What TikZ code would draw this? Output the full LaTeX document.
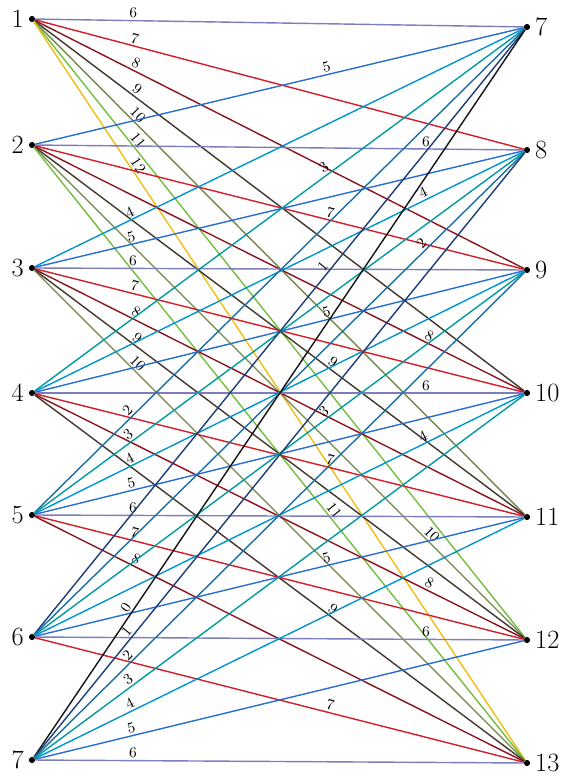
\documentclass[tikz,border=0pt]{standalone}
\usepackage{xcolor}
\usepackage{tikz}

\definecolor{d0}{RGB}{20,20,20}
\definecolor{d1}{RGB}{30,60,120}
\definecolor{d2}{RGB}{25,110,165}
\definecolor{d3}{RGB}{0,155,160}
\definecolor{d4}{RGB}{0,150,205}
\definecolor{d5}{RGB}{40,110,210}
\definecolor{d6}{RGB}{125,125,190}
\definecolor{d7}{RGB}{210,30,40}
\definecolor{d8}{RGB}{140,20,30}
\definecolor{d9}{RGB}{65,55,45}
\definecolor{d10}{RGB}{115,135,75}
\definecolor{d11}{RGB}{115,190,60}
\definecolor{d12}{RGB}{240,190,20}

\begin{document}
\begin{tikzpicture}[x=0.02cm, y=-0.02cm]
    \tikzstyle{vertex} = [circle, fill=black, inner sep=0pt, minimum size=3.5pt]
    \tikzstyle{vlabel} = [font=\fontsize{15}{18}\selectfont, inner sep=2.5pt]
    \tikzstyle{elabel} = [font=\fontsize{8.5}{10}\selectfont, sloped, above, inner sep=1pt, text=black]
    \tikzstyle{edge} = [line width=0.8pt]

    \useasboundingbox (0,0) rectangle (563,780);

    % left column
    \node [vertex, label={[vlabel]left:1}] (l1) at (32,19) {};
    \node [vertex, label={[vlabel]left:2}] (l2) at (32,145) {};
    \node [vertex, label={[vlabel]left:3}] (l3) at (32,268) {};
    \node [vertex, label={[vlabel]left:4}] (l4) at (32,393) {};
    \node [vertex, label={[vlabel]left:5}] (l5) at (32,515) {};
    \node [vertex, label={[vlabel]left:6}] (l6) at (32,637) {};
    \node [vertex, label={[vlabel]left:7}] (l7) at (32,760) {};

    % right column
    \node [vertex, label={[vlabel]right:7}] (r7) at (527,27) {};
    \node [vertex, label={[vlabel]right:8}] (r8) at (527,150) {};
    \node [vertex, label={[vlabel]right:9}] (r9) at (527,270) {};
    \node [vertex, label={[vlabel]right:10}] (r10) at (527,393) {};
    \node [vertex, label={[vlabel]right:11}] (r11) at (527,517) {};
    \node [vertex, label={[vlabel]right:12}] (r12) at (527,640) {};
    \node [vertex, label={[vlabel]right:13}] (r13) at (527,763) {};

    % every pair, coloured and labelled by the difference
    \foreach \i in {1,...,7}
      \foreach \j in {7,...,13} {
        \pgfmathtruncatemacro{\d}{\j-\i}
        \pgfmathsetmacro{\p}{ifthenelse(isodd(\i),0.2,ifthenelse(isodd(\j),0.6,0.8))}
        \draw [edge, draw=d\d] (l\i) -- node [elabel, pos=\p] {\d} (r\j);
      }
\end{tikzpicture}
\end{document}
